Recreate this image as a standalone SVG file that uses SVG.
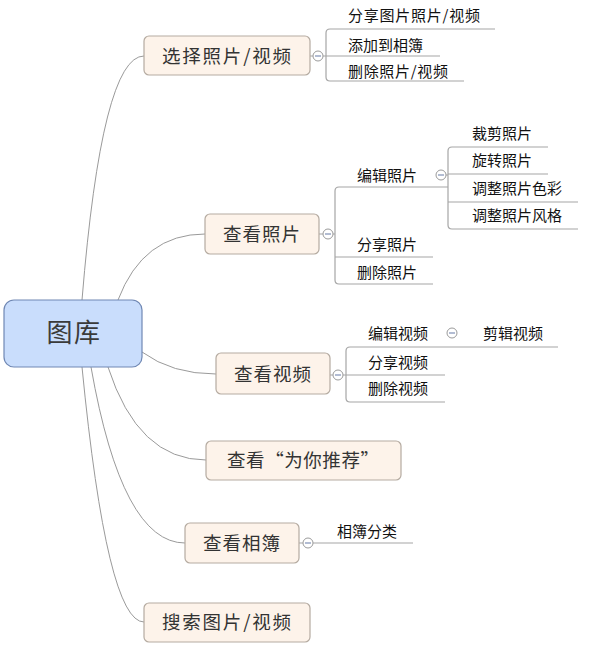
<svg xmlns="http://www.w3.org/2000/svg" width="591" height="650" viewBox="0 0 591 650">
<style>
.conn{fill:none;stroke:#9a9a9a;stroke-width:1}
.sub{fill:none;stroke:#a6a6a6;stroke-width:1.2}
.box{fill:#fdf3ea;stroke:#b5aba1;stroke-width:1.2}
.root{fill:#c9ddfc;stroke:#7088b4;stroke-width:1.2}
.mt{font-family:"Noto Sans CJK SC","Noto Sans",sans-serif;font-size:18.5px;fill:#333;text-anchor:middle;letter-spacing:1px}
.st{font-family:"Noto Sans CJK SC","Noto Sans",sans-serif;font-size:15px;fill:#111}
.rt{font-family:"Noto Sans CJK SC","Noto Sans",sans-serif;font-size:26px;fill:#3a3a3a;text-anchor:middle;letter-spacing:1.5px}
.cc{fill:#fff;stroke:#9a9a9a;stroke-width:1}
.cm{stroke:#7f8fb5;stroke-width:1.2}
</style>
<defs>
<g id="col"><circle class="cc" cx="0" cy="0" r="5"/><line class="cm" x1="-3" y1="0" x2="3" y2="0"/></g>
</defs>
<rect width="591" height="650" fill="#fff"/>
<g id="connectors">
<path class="conn" d="M82,300 Q102,56 144,56"/>
<path class="conn" d="M118,300 Q143,234 205,234"/>
<path class="conn" d="M142,352 Q172,374 216,374"/>
<path class="conn" d="M108,367 Q138,460 206,460"/>
<path class="conn" d="M91,367 Q122,543 185,543"/>
<path class="conn" d="M82,367 Q107,622 144,622"/>
<path class="sub" d="M310,56 H313 M323,56 H440"/>
<path class="sub" d="M495,29 H330 Q326,29 326,33 V77 Q326,81 330,81 H464"/>
<path class="sub" d="M319,234 H323 M333,234 H335"/>
<path class="sub" d="M448,187 H339 Q335,187 335,191 V280 Q335,284 339,284 H433 M335,257 H433"/>
<path class="sub" d="M548,147 H452 Q448,147 448,151 V225 Q448,229 452,229 H578 M448,174 H548 M448,202 H578 M446,175 H448"/>
<path class="sub" d="M330,375 H333 M343,375 H346"/>
<path class="sub" d="M558,347 H350 Q346,347 346,351 V398 Q346,402 350,402 H445 M346,375 H445"/>
<path class="sub" d="M299,543 H303 M313,543 H413"/>
</g>
<g id="root">
<rect class="root" x="4" y="300" width="138" height="67" rx="10"/>
<text class="rt" x="74" y="342">图库</text>
</g>
<g id="n1">
<rect class="box" x="144" y="36" width="166" height="39" rx="5"/>
<text class="mt" x="227" y="62.5" textLength="130" lengthAdjust="spacing">选择照片/视频</text>
<use href="#col" x="318" y="56"/>
</g>
<g id="n1a"><text class="st" x="348" y="20.5" textLength="132" lengthAdjust="spacing">分享图片照片/视频</text></g>
<g id="n1b"><text class="st" x="348" y="50.5">添加到相簿</text></g>
<g id="n1c"><text class="st" x="348" y="77" textLength="100" lengthAdjust="spacing">删除照片/视频</text></g>
<g id="n2">
<rect class="box" x="205" y="214" width="114" height="40" rx="5"/>
<text class="mt" x="262" y="241">查看照片</text>
<use href="#col" x="328" y="234"/>
</g>
<g id="n2a"><text class="st" x="357" y="180.5">编辑照片</text><use href="#col" x="441" y="175"/></g>
<g id="n2b"><text class="st" x="357" y="249.5">分享照片</text></g>
<g id="n2c"><text class="st" x="357" y="277.5">删除照片</text></g>
<g id="n2a1"><text class="st" x="472" y="138.5">裁剪照片</text></g>
<g id="n2a2"><text class="st" x="472" y="165.5">旋转照片</text></g>
<g id="n2a3"><text class="st" x="472" y="193.5">调整照片色彩</text></g>
<g id="n2a4"><text class="st" x="472" y="220.5">调整照片风格</text></g>
<g id="n3">
<rect class="box" x="216" y="353" width="114" height="41" rx="5"/>
<text class="mt" x="273" y="380.5">查看视频</text>
<use href="#col" x="338" y="375"/>
</g>
<g id="n3a"><text class="st" x="368" y="338.5">编辑视频</text><use href="#col" x="452" y="333"/></g>
<g id="n3a1"><text class="st" x="483" y="338.5">剪辑视频</text></g>
<g id="n3b"><text class="st" x="368" y="367.5">分享视频</text></g>
<g id="n3c"><text class="st" x="368" y="393.5">删除视频</text></g>
<g id="n4">
<rect class="box" x="206" y="441" width="195" height="39" rx="5"/>
<text class="mt" x="303.5" y="467" textLength="153" lengthAdjust="spacing">查看“为你推荐”</text>
</g>
<g id="n5">
<rect class="box" x="185" y="523" width="114" height="40" rx="5"/>
<text class="mt" x="242" y="550">查看相簿</text>
<use href="#col" x="308" y="543"/>
</g>
<g id="n5a"><text class="st" x="337" y="536.5">相簿分类</text></g>
<g id="n6">
<rect class="box" x="144" y="603" width="166" height="39" rx="5"/>
<text class="mt" x="227" y="629" textLength="130" lengthAdjust="spacing">搜索图片/视频</text>
</g>
</svg>
